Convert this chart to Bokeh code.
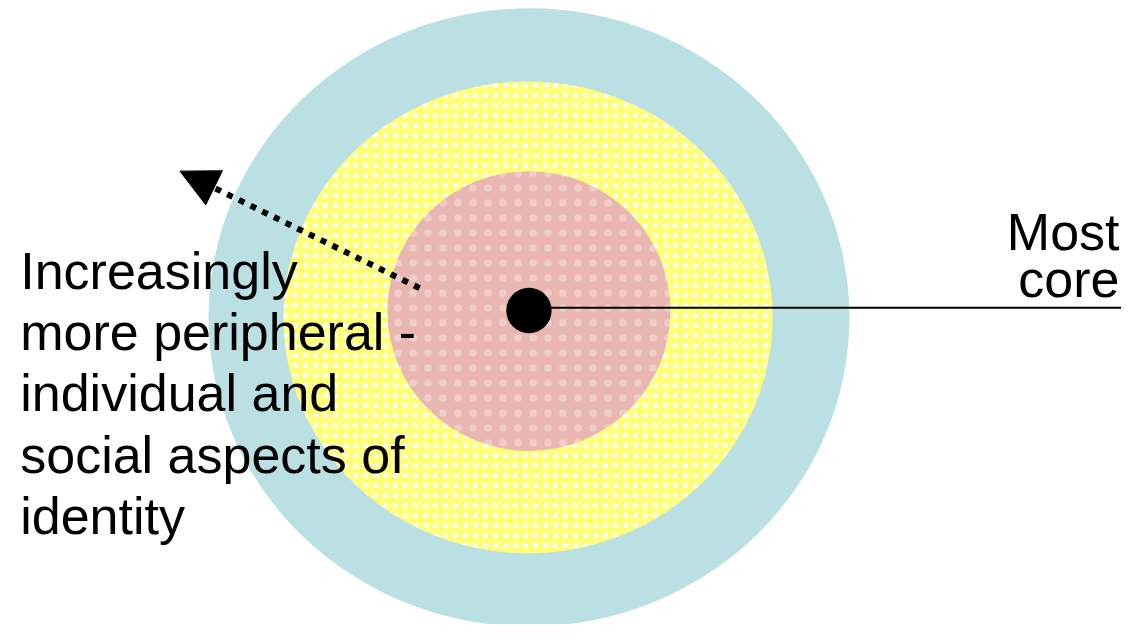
from bokeh.plotting import figure
from bokeh.models import Range1d, Arrow, NormalHead
from bokeh.core.properties import value
from bokeh.embed import file_html
from bokeh.resources import INLINE

# ---- diagram values (reference pixel units) ----
ring_names = ["outer", "middle", "inner"]
ring_cx = [536, 535, 536]
ring_cy = [325, 325, 318.5]
ring_w = [650, 496, 287]
ring_h = [634, 484, 287]
ring_fill = ["#BBE0E3", "#FFFF7A", "#E8B7B2"]
ring_hatch = [" ", "dot", "dot"]
ring_hatch_color = ["white", "white", "white"]
ring_hatch_scale = [8, 10, 15]
ring_hatch_weight = [1, 10, 1.3]
ring_hatch_alpha = [0.0, 0.95, 0.3]

core_x = [536]
core_y = [318]
core_r = [23]

core_line_x = [536, 1137]
core_line_y = [315, 315]

arrow_start = (425, 295)
arrow_end = (182, 175)

left_lines = ["Increasingly", "more peripheral -", "individual and",
              "social aspects of", "identity"]
left_baselines = [297, 360, 423, 486, 549]
right_lines = ["Most", "core"]
right_baselines = [257, 306]

FONT = "Liberation Sans"
TEXT_DY = 20  # renderer baseline correction

p = figure(width=1121, height=624, output_backend="svg", toolbar_location=None,
           x_range=Range1d(0, 1137), y_range=Range1d(640, 0),
           min_border=0, background_fill_color="white", border_fill_color="white")
p.axis.visible = False
p.grid.visible = False
p.outline_line_color = None

for i in range(len(ring_names)):
    p.ellipse(x=[ring_cx[i]], y=[ring_cy[i]], width=[ring_w[i]], height=[ring_h[i]],
              fill_color=ring_fill[i], line_color=None,
              hatch_pattern=ring_hatch[i], hatch_color=ring_hatch_color[i],
              hatch_scale=ring_hatch_scale[i], hatch_alpha=ring_hatch_alpha[i],
              hatch_weight=ring_hatch_weight[i])

p.line(core_line_x, core_line_y, line_color="black", line_width=2)
p.circle(x=core_x, y=core_y, radius=core_r, fill_color="black", line_color=None)

arrow = Arrow(x_start=arrow_start[0], y_start=arrow_start[1],
              x_end=arrow_end[0], y_end=arrow_end[1],
              line_width=6, line_dash="6 7", line_color="black", line_cap="butt",
              end=NormalHead(size=38, fill_color="black", line_color="black", line_width=1))
p.add_layout(arrow)

p.text(x=[20] * len(left_lines), y=[b - TEXT_DY for b in left_baselines],
       text=left_lines, text_font=value(FONT), text_font_size="52px",
       text_color="black", text_baseline="alphabetic", text_align="left")

p.text(x=[1135] * len(right_lines), y=[b - TEXT_DY for b in right_baselines],
       text=right_lines, text_font=value(FONT), text_font_size="52px",
       text_color="black", text_baseline="alphabetic", text_align="right")

open("out.html", "w").write(file_html(p, INLINE))
